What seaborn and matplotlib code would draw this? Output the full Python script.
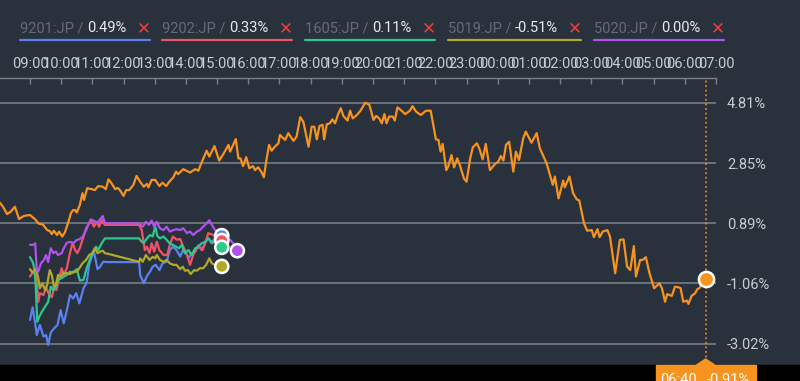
import numpy as np
import pandas as pd
import seaborn as sns
import matplotlib.pyplot as plt
from matplotlib.patches import Rectangle, Polygon
from matplotlib.lines import Line2D

# time axis: minutes after the 09:00 open, values: % change

# reference (orange) series, runs overnight
ref_min = [-58, -52, -44, -37, -29, -21, -12, 0, 10, 17,
           25, 33, 38, 42, 46, 52, 56, 62, 67, 73,
           79, 83, 87, 90, 96, 101, 104, 110, 119, 125,
           131, 140, 146, 151, 157, 164, 169, 173, 180, 185,
           191, 199, 205, 212, 219, 225, 228, 234, 241, 249,
           255, 262, 268, 276, 281, 285, 295, 308, 318, 324,
           330, 340, 345, 355, 364, 372, 382, 385, 396, 401,
           405, 410, 416, 422, 429, 433, 439, 446, 450, 455,
           460, 465, 471, 478, 481, 491, 497, 507, 513, 520,
           526, 536, 542, 547, 552, 557, 563, 566, 571, 577,
           582, 587, 593, 598, 603, 611, 616, 621, 629, 636,
           645, 653, 661, 666, 672, 677, 682, 686, 691, 698,
           702, 707, 715, 722, 731, 736, 743, 752, 762, 771,
           781, 786, 790, 794, 801, 805, 811, 816, 822, 827,
           835, 840, 847, 852, 860, 865, 871, 877, 885, 895,
           901, 906, 911, 916, 922, 930, 935, 941, 949, 954,
           965, 975, 981, 994, 1006, 1010, 1017, 1026, 1029, 1038,
           1045, 1052, 1057, 1066, 1072, 1081, 1085, 1092, 1096, 1102,
           1111, 1116, 1126, 1135, 1142, 1149, 1155, 1162, 1166, 1174,
           1179, 1185, 1192, 1201, 1211, 1216, 1222, 1226, 1235, 1241,
           1248, 1252, 1257, 1264, 1267, 1273, 1280, 1284, 1288, 1293,
           1300]
ref_pct = [1.56, 1.43, 1.19, 1.27, 1.43, 1.03, 1.13, 1.16, 1.02, 0.88,
           0.85, 0.67, 0.64, 0.54, 0.65, 0.51, 0.62, 0.46, 0.59, 0.89,
           1.23, 1.32, 1.32, 1.24, 1.49, 1.87, 1.65, 2.03, 2.00, 1.97,
           2.10, 2.08, 2.00, 2.32, 2.19, 2.00, 2.04, 1.97, 1.78, 1.97,
           1.97, 2.14, 2.43, 2.24, 2.08, 2.17, 2.06, 2.30, 2.30, 2.10,
           2.21, 2.10, 2.24, 2.39, 2.57, 2.49, 2.65, 2.54, 2.65, 2.60,
           2.86, 3.25, 3.06, 3.40, 2.93, 3.14, 3.44, 3.22, 3.63, 3.00,
           3.00, 2.75, 3.04, 2.68, 2.75, 2.62, 2.71, 2.54, 2.39, 2.95,
           3.44, 3.25, 3.38, 3.49, 3.76, 3.60, 3.82, 3.57, 3.71, 4.34,
           4.19, 3.38, 4.03, 4.03, 3.62, 4.05, 4.09, 3.62, 4.11, 4.14,
           4.27, 4.14, 4.44, 4.63, 4.38, 4.23, 4.55, 4.30, 4.41, 4.55,
           4.81, 4.74, 4.25, 4.38, 4.30, 4.14, 4.44, 4.14, 4.36, 4.36,
           4.23, 4.66, 4.55, 4.44, 4.55, 4.70, 4.52, 4.41, 4.55, 4.55,
           3.62, 3.60, 3.22, 3.47, 2.62, 2.75, 3.11, 2.71, 3.00, 2.79,
           2.35, 2.24, 3.00, 3.36, 3.49, 3.30, 2.97, 3.47, 2.62, 2.82,
           2.89, 3.08, 2.93, 3.44, 3.54, 2.57, 3.22, 2.95, 3.65, 3.87,
           3.51, 3.82, 3.33, 2.84, 2.14, 2.41, 1.70, 2.28, 2.06, 2.41,
           1.87, 1.67, 1.63, 0.89, 0.65, 0.67, 0.44, 0.70, 0.44, 0.62,
           0.67, 0.46, -0.73, 0.35, 0.37, -0.52, -0.63, 0.15, -0.84, -0.30,
           -0.30, -0.21, -0.73, -1.22, -1.06, -1.22, -1.66, -1.41, -1.47, -1.17,
           -1.19, -1.22, -1.66, -1.62, -1.73, -1.47, -1.38, -1.25, -1.22, -1.06,
           -0.91]

# 9201:JP
b_min = [0, 5, 10, 13, 19, 26, 31, 35, 40, 45, 53, 59, 65, 71, 77, 83, 89, 95, 103, 109,
         114, 119, 123, 130, 135, 141, 150, 210, 212, 219, 225, 231, 236, 242, 249, 255, 263,
         269, 275, 282, 289, 296, 305, 311, 318, 324, 330, 337, 343, 350, 358, 369]
b_pct = [-2.25, -1.84, -2.36, -2.74, -2.41, -2.79, -2.74, -3.06, -2.66, -2.55, -2.41, -1.93,
         -2.36, -1.93, -1.44, -1.55, -1.38, -1.71, -1.22, -1.04, -0.46, -0.19, -0.03, -0.60,
         -0.52, -0.36, -0.37, -0.37, -0.79, -1.06, -0.82, -0.68, -0.52, -0.46, -0.63, -0.41,
         -0.36, 0.02, 0.13, 0.02, -0.19, 0.08, -0.25, -0.08, -0.04, 0.18, 0.02, 0.25, 0.41,
         0.28, 0.45, 0.49]

# 9202:JP
r_min = [0, 6, 12, 16, 19, 26, 31, 37, 42, 46, 51, 56, 61, 65, 71, 76, 82, 87, 91, 96,
         103, 108, 114, 119, 123, 128, 133, 138, 144, 150, 210, 215, 221, 225, 230, 234, 239,
         244, 249, 257, 264, 269, 275, 282, 289, 295, 302, 308, 314, 321, 327, 332, 337, 343,
         353, 360, 369]
r_pct = [-0.84, -0.68, -0.79, -1.66, -1.38, -1.44, -1.19, -1.44, -1.51, -1.22, -1.28, -0.90,
         -0.57, -0.79, -0.56, -0.14, 0.26, 0.02, -0.08, 0.09, 0.46, 0.73, 0.89, 0.94, 0.78,
         0.94, 0.78, 1.00, 0.84, 0.84, 0.84, 0.67, 0.02, 0.13, -0.08, 0.24, -0.03, 0.29, 0.02,
         -0.14, -0.14, 0.19, 0.46, 0.36, 0.38, 0.13, -0.14, -0.46, -0.14, 0.08, 0.12, 0.02,
         0.24, 0.57, 0.51, 0.35, 0.33]

# 1605:JP
g_min = [0, 5, 8, 11, 14, 18, 23, 29, 35, 40, 45, 50, 54, 61, 65, 71, 77, 83, 90, 96,
         103, 109, 115, 121, 127, 131, 138, 144, 150, 210, 215, 219, 225, 231, 236, 241, 245,
         250, 257, 263, 269, 275, 281, 287, 292, 298, 305, 311, 318, 324, 330, 337, 343, 350,
         356, 362, 369]
g_pct = [-0.21, -0.36, -0.54, -1.11, -2.31, -2.14, -1.98, -1.82, -1.66, -1.17, -1.28, -1.17,
         -0.95, -0.89, -0.84, -0.79, -0.68, -0.72, -0.60, -0.97, -0.95, -0.57, -0.30, -0.03,
         0.13, 0.02, 0.24, 0.40, 0.40, 0.40, 0.29, 0.25, 0.40, 0.51, 0.46, 0.78, 0.48, 0.40,
         0.46, 0.35, 0.24, 0.19, 0.13, 0.08, 0.19, -0.08, 0.02, -0.14, 0.08, 0.13, 0.24, 0.29,
         0.40, 0.24, 0.32, 0.19, 0.11]

# 5019:JP
o_min = [0, 5, 10, 13, 16, 19, 24, 29, 33, 38, 42, 46, 50, 54, 59, 64, 71, 77, 83, 90,
         95, 101, 108, 114, 121, 125, 130, 135, 140, 144, 150, 210, 212, 217, 223, 230, 236,
         241, 244, 250, 257, 263, 269, 276, 282, 289, 294, 298, 304, 309, 316, 321, 327, 333,
         339, 345, 350, 356, 369]
o_pct = [-0.60, -0.71, -0.60, -0.68, -0.90, -1.22, -1.06, -1.28, -1.11, -0.63, -0.79, -1.17,
         -1.11, -0.79, -0.84, -0.73, -0.73, -0.76, -0.68, -0.68, -0.57, -0.41, -0.30, -0.14,
         -0.07, 0.08, -0.08, -0.03, 0.00, -0.08, -0.10, -0.36, -0.25, -0.36, -0.14, -0.30,
         -0.20, -0.25, -0.14, -0.30, -0.36, -0.30, -0.41, -0.46, -0.46, -0.60, -0.52, -0.65,
         -0.63, -0.76, -0.63, -0.65, -0.57, -0.57, -0.46, -0.25, -0.41, -0.46, -0.51]

# 5020:JP
p_min = [0, 6, 10, 13, 16, 21, 26, 31, 35, 40, 45, 50, 54, 61, 65, 71, 77, 83, 90, 95,
         102, 108, 112, 117, 123, 130, 135, 140, 144, 150, 210, 217, 223, 229, 234, 239, 244,
         250, 257, 263, 269, 276, 282, 289, 295, 302, 308, 314, 321, 327, 333, 340, 345, 350,
         356, 366, 372, 385, 394, 399]
p_pct = [0.19, 0.19, 0.24, -0.60, -0.68, -0.41, -0.32, -0.14, -0.37, 0.08, -0.08, -0.03,
         -0.14, -0.08, 0.08, 0.26, 0.29, 0.24, 0.35, 0.37, 0.46, 0.67, 0.84, 1.02, 0.97, 0.91,
         1.02, 1.13, 0.91, 0.89, 0.89, 0.78, 0.94, 0.84, 0.98, 0.78, 0.94, 0.73, 0.67, 0.78,
         0.62, 0.67, 0.70, 0.67, 0.73, 0.57, 0.62, 0.51, 0.62, 0.67, 0.78, 0.89, 0.99, 0.84,
         0.67, 0.62, 0.57, 0.35, 0.19, 0.00]

codes = ['9201:JP', '9202:JP', '1605:JP', '5019:JP', '5020:JP']
colors = ['#5b80f0', '#f25266', '#2bc98b', '#b3a82a', '#b052ee']
stock_min = [b_min, r_min, g_min, o_min, p_min]
stock_pct = [b_pct, r_pct, g_pct, o_pct, p_pct]
ref_color = '#f7931e'

hour_labels = ['09:00', '10:00', '11:00', '12:00', '13:00', '14:00', '15:00', '16:00',
               '17:00', '18:00', '19:00', '20:00', '21:00', '22:00', '23:00', '00:00',
               '01:00', '02:00', '03:00', '04:00', '05:00', '06:00', '07:00']
y_ticks = [4.81, 2.85, 0.89, -1.06, -3.02]

bg = '#29313c'
txt = '#c9ccd1'
fs = 10.5
sns.set_style('dark')
plt.rcParams['font.family'] = ['Roboto', 'DejaVu Sans']

W, H = 800, 381
fig = plt.figure(figsize=(W / 100, H / 100), dpi=100, facecolor=bg)
ax = fig.add_axes([0, 19 / H, 716 / W, 284 / H])
ax.set_facecolor(bg)

ax.axvline(ref_min[-1], color=ref_color, ls=(0, (1.2, 1.8)), lw=1.1, zorder=1.5)

ref = pd.DataFrame({'min': ref_min, 'pct': ref_pct})
sns.lineplot(data=ref, x='min', y='pct', color=ref_color, lw=1.6, sort=False,
             estimator=None, ax=ax)

stocks = pd.concat([pd.DataFrame({'min': m, 'pct': p, 'code': c})
                    for c, m, p in zip(codes, stock_min, stock_pct)])
pal = dict(zip(codes, colors))
sns.lineplot(data=stocks, x='min', y='pct', hue='code', palette=pal, lw=1.6, sort=False,
             estimator=None, legend=False, ax=ax)

# end markers
last = stocks.groupby('code', sort=False).tail(1)
sns.scatterplot(data=last, x='min', y='pct', hue='code', palette=pal, s=90,
                edgecolor='white', linewidth=1.8, legend=False, zorder=5, ax=ax)
ax.scatter(ref_min[-1], ref_pct[-1], s=120, color=ref_color, edgecolor='white',
           linewidth=1.8, zorder=6)

ax.set_xlim(-57.7, 1320)
ax.set_ylim(-3.617, 5.613)
ax.set_xticks(np.arange(0, 1321, 60))
ax.set_xticklabels(hour_labels)
ax.set_yticks(y_ticks)
ax.set_yticklabels([f'{v:.2f}%' for v in y_ticks])
ax.set_xlabel('')
ax.set_ylabel('')
ax.tick_params(axis='x', top=True, bottom=False, labeltop=True, labelbottom=False,
               direction='in', length=4, width=1, color='#7b8088', labelcolor=txt,
               labelsize=fs, pad=5)
ax.tick_params(axis='y', left=False, right=False, labelleft=False, labelright=True,
               length=0, labelcolor=txt, labelsize=fs, pad=8)
ax.grid(axis='y', color='#72777e', lw=1.3)
ax.grid(axis='x', visible=False)
for s in ['left', 'right', 'bottom']:
    ax.spines[s].set_visible(False)
ax.spines['top'].set_color('#7b8088')
ax.spines['top'].set_linewidth(1)

# legend row
legend_x = [20, 162, 305, 448, 594]
legend_w = [130, 130, 130, 133, 130]
ly = 1 - 28.5 / H
for c, col, p, x0, w in zip(codes, colors, stock_pct, legend_x, legend_w):
    fig.text(x0 / W, ly, f'{c} /', color='#646c77', fontsize=fs, va='center')
    fig.text((x0 + 67) / W, ly, f'{p[-1]:.2f}%', color='#e8eaed', fontsize=fs, va='center')
    fig.text((x0 + w - 6) / W, ly, '\u2715', color='#e8403c', fontsize=12, va='center',
             ha='center', family='DejaVu Sans')
    fig.add_artist(Line2D([x0 / W, (x0 + w) / W], [1 - 40.3 / H] * 2, color=col, lw=1.6))

# bottom strip with the cursor tag
fig.add_artist(Rectangle((0, 0), 1, 16 / H, transform=fig.transFigure, color='black'))
xp = ax.transData.transform((ref_min[-1], 0))[0]
fig.add_artist(Rectangle(((xp - 50) / W, 0), 100 / W, 16 / H, transform=fig.transFigure,
                         color=ref_color))
fig.add_artist(Polygon([((xp - 9) / W, 16 / H), ((xp + 9) / W, 16 / H), (xp / W, 22 / H)],
                       closed=True, transform=fig.transFigure, color=ref_color))
t = (9 * 60 + ref_min[-1]) % 1440
fig.text((xp - 9) / W, -2.5 / H, f'{t // 60:02d}:{t % 60:02d}', color='white',
         fontsize=fs, ha='right', va='baseline')
fig.text((xp + 1) / W, -2.5 / H, f'{ref_pct[-1]:.2f}%', color='white',
         fontsize=fs, ha='left', va='baseline')

fig.savefig('out.png', dpi=100, facecolor=bg)
